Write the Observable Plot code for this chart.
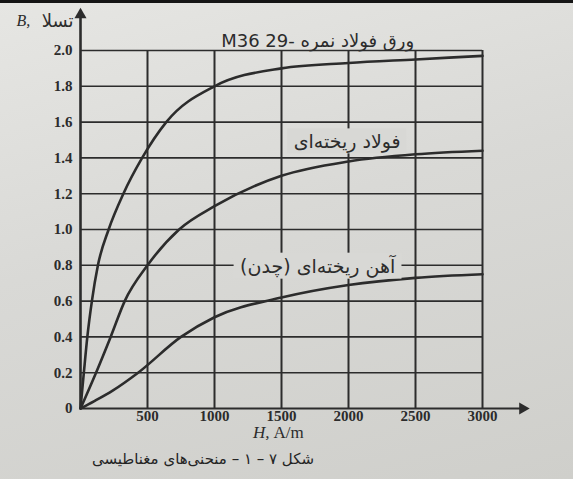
<!DOCTYPE html>
<html><head><meta charset="utf-8">
<script src="https://cdn.jsdelivr.net/npm/d3@7"></script>
<script src="https://cdn.jsdelivr.net/npm/@observablehq/plot@0.6"></script>
<style>
html,body{margin:0;padding:0;}
body{width:573px;height:479px;overflow:hidden;position:relative;
  background:linear-gradient(165deg,#e6e6e3 0%,#d9d9d6 45%,#cfcfcb 100%);}
#topbar{position:absolute;left:0;top:0;width:573px;height:3px;background:#151515;}
#chart{position:absolute;left:0;top:0;}
#caption{position:absolute;left:0;top:450px;width:406px;text-align:center;
  font-family:"DejaVu Sans",sans-serif;font-size:15px;color:#242424;}
</style></head><body>
<div id="topbar"></div>
<div id="chart"></div>
<div id="caption" dir="rtl">شکل ۷ – ۱ – منحنی‌های مغناطیسی</div>
<script>
// tick values
const hTicks = [500, 1000, 1500, 2000, 2500, 3000];
const bTicks = [0, 0.2, 0.4, 0.6, 0.8, 1.0, 1.2, 1.4, 1.6, 1.8, 2.0];

// series: ورق فولاد نمره M36 29
const m36H = [0, 25, 51, 85, 130, 210, 320, 460, 640, 1000, 1500, 2000, 2500, 3000];
const m36B = [0, 0.2, 0.4, 0.6, 0.8, 1.0, 1.2, 1.4, 1.6, 1.8, 1.9, 1.93, 1.95, 1.97];
// series: فولاد ریخته‌ای
const castSteelH = [0, 116, 225, 330, 500, 736, 1000, 1500, 2000, 2500, 3000];
const castSteelB = [0, 0.2, 0.4, 0.6, 0.8, 1.0, 1.13, 1.3, 1.38, 1.42, 1.44];
// series: آهن ریخته‌ای (چدن)
const castIronH = [0, 100, 240, 430, 750, 1000, 1500, 2000, 2500, 3000];
const castIronB = [0, 0.04, 0.1, 0.2, 0.4, 0.51, 0.62, 0.69, 0.73, 0.75];

// curve labels (anchor in data units)
const m36Label = "M36 29- ورق فولاد نمره";
const haloLabelText = ["فولاد ریخته‌ای", "\u202Bآهن ریخته‌ای (چدن)\u202C"];
const m36LabelH = 1770, m36LabelB = 2.05;
const haloLabelH = [1990, 1770];
const haloLabelB = [1.49, 0.79];

const yTitleVar = "B,";
const yTitleUnit = "تسلا";
const xTitleVar = "H,";
const xTitleUnit = "A/m";

const ink = "#2c2c2c";
const paper = "#d8d8d5";

const series = [
  {name: "m36", H: m36H, B: m36B},
  {name: "castSteel", H: castSteelH, B: castSteelB},
  {name: "castIron", H: castIronH, B: castIronB}
];
const rows = series.flatMap(s => s.H.map((h, i) => ({series: s.name, H: h, B: s.B[i]})));
const haloLabels = haloLabelText.map((t, i) => ({t, H: haloLabelH[i], B: haloLabelB[i]}));

const xMax = d3.max(hTicks), yMax = d3.max(bTicks);
const xArrow = xMax * 1.1, yArrow = yMax * 1.1;
const serif = "'Liberation Serif', 'Times New Roman', serif";
const arabic = "'DejaVu Sans', sans-serif";

const chart = Plot.plot({
  width: 573, height: 440,
  marginLeft: 80, marginRight: 91, marginTop: 50, marginBottom: 32,
  style: {background: "transparent", fontFamily: serif, fontSize: "15px", color: ink},
  x: {domain: [0, xMax]},
  y: {domain: [0, yMax]},
  marks: [
    Plot.ruleX(hTicks, {y1: 0, y2: yMax, stroke: ink, strokeWidth: 2}),
    Plot.ruleY(bTicks.filter(d => d > 0), {x1: 0, x2: xMax, stroke: ink, strokeWidth: 1.6}),
    Plot.ruleX([0], {y1: 0, y2: yArrow, stroke: ink, strokeWidth: 2.6}),
    Plot.ruleY([0], {x1: 0, x2: xArrow, stroke: ink, strokeWidth: 2}),
    Plot.dot([0], {x: 0, y: yArrow, symbol: "triangle", r: 4.5, fill: ink, stroke: null}),
    Plot.dot([0], {x: xArrow, y: 0, symbol: "triangle", r: 4.5, rotate: 90, fill: ink, stroke: null}),
    Plot.line(rows, {x: "H", y: "B", z: "series", curve: "monotone-x", stroke: ink, strokeWidth: 2.6}),
    Plot.text(haloLabels, {x: "H", y: "B", text: "t", fill: ink,
      fontFamily: arabic, fontSize: 19, textAnchor: "middle"}),
    Plot.text([m36Label], {x: m36LabelH, y: m36LabelB, fill: ink,
      fontFamily: arabic, fontSize: 18, textAnchor: "middle"}),
    Plot.axisX({ticks: hTicks, tickSize: 0, tickPadding: 2, label: null, tickFormat: d => String(d),
      fontFamily: serif, fontWeight: "bold", fontSize: 15, letterSpacing: "1.5px"}),
    Plot.axisY({ticks: bTicks, tickSize: 0, tickPadding: 8, label: null,
      tickFormat: d => d === 0 ? "0" : d.toFixed(1), fontFamily: serif, fontWeight: "bold", fontSize: 15,
      letterSpacing: "2px"}),
    Plot.text([yTitleVar], {frameAnchor: "top-left", dx: -64, dy: -36, textAnchor: "start", fill: ink,
      fontFamily: serif, fontStyle: "italic", fontSize: 16}),
    Plot.text([yTitleUnit], {frameAnchor: "top-left", dx: -7, dy: -36, textAnchor: "end", fill: ink,
      fontFamily: arabic, fontSize: 18}),
    Plot.text([xTitleVar], {frameAnchor: "bottom", dx: -12, dy: 29, textAnchor: "end", fill: ink,
      fontFamily: serif, fontStyle: "italic", fontSize: 17}),
    Plot.text([xTitleUnit], {frameAnchor: "bottom", dx: -8, dy: 29, textAnchor: "start", fill: ink,
      fontFamily: serif, fontSize: 17})
  ]
});
document.getElementById("chart").appendChild(chart);

// paper-coloured backing behind the two in-plot labels (gridlines break around them)
const labelGroup = chart.querySelectorAll("g[aria-label='text']")[0];
const backing = document.createElementNS("http://www.w3.org/2000/svg", "g");
labelGroup.parentNode.insertBefore(backing, labelGroup);
labelGroup.querySelectorAll("text").forEach(t => {
  const b = t.getBBox();
  const r = document.createElementNS("http://www.w3.org/2000/svg", "rect");
  const tr = t.getAttribute("transform");
  if (tr) r.setAttribute("transform", tr);
  r.setAttribute("x", b.x - 6); r.setAttribute("y", b.y - 1);
  r.setAttribute("width", b.width + 12); r.setAttribute("height", b.height + 2);
  r.setAttribute("fill", paper);
  backing.appendChild(r);
});
</script>
</body></html>
